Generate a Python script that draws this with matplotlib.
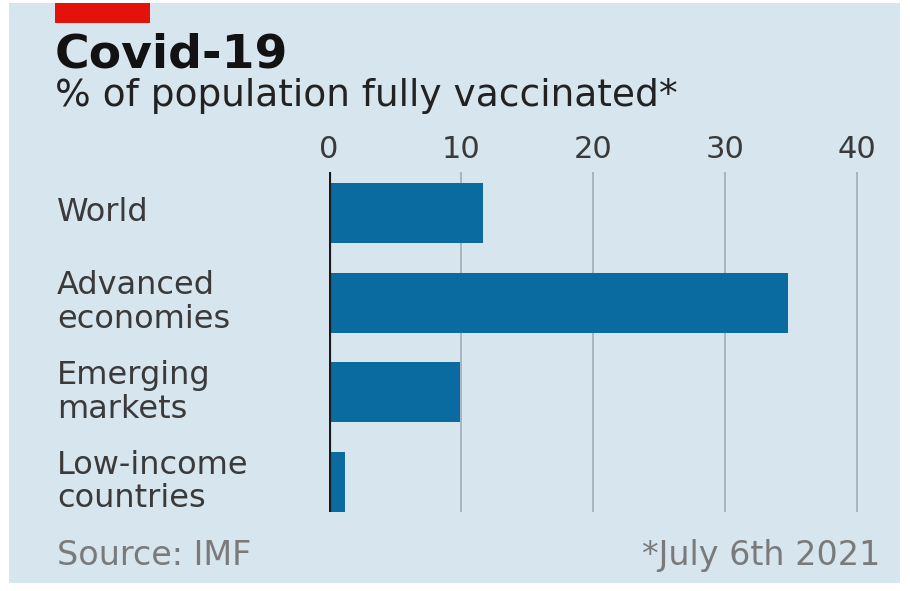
import matplotlib
matplotlib.use("Agg")
import matplotlib.pyplot as plt
from matplotlib.patches import Rectangle
import matplotlib.transforms as mtransforms

plt.rcParams['font.family'] = ['DejaVu Sans']

# data (% fully vaccinated, July 6th 2021)
groups = ["World", "Advanced\neconomies", "Emerging\nmarkets", "Low-income\ncountries"]
values = [11.7, 34.8, 9.9, 1.2]
ticks = [0, 10, 20, 30, 40]

bg = "#d6e5ee"
bar_col = "#0a6ba1"

fig = plt.figure(figsize=(9.1, 5.91), dpi=100)
fig.patch.set_facecolor("white")
fig.patches.append(Rectangle((9 / 910, 1 - 583 / 591), 891 / 910, 580 / 591,
                             transform=fig.transFigure, facecolor=bg,
                             edgecolor="none", zorder=0))
# red tab
fig.patches.append(Rectangle((55 / 910, 1 - 23 / 591), 95 / 910, 20 / 591,
                             transform=fig.transFigure, facecolor="#e3120b",
                             edgecolor="none", zorder=1))

ax = fig.add_axes([329 / 910, 1 - 512 / 591, 554 / 910, 340 / 591])
ax.set_zorder(3)
ax.set_facecolor("none")
ax.barh(range(len(groups)), values, height=0.67, color=bar_col, zorder=2)
ax.set_xlim(0, 42)
ax.set_ylim(3.334, -0.457)
ax.set_xticks(ticks)
ax.xaxis.tick_top()
ax.tick_params(axis="x", length=0, pad=6, labelsize=22, labelcolor="#3a3a3a")
ax.set_yticks([])
for s in ax.spines.values():
    s.set_visible(False)
ax.grid(axis="x", color="#a9b4bc", linewidth=1.4, zorder=1)
ax.axvline(0, color="#1a1a1a", linewidth=3, zorder=3)

# category labels, left aligned
tr = mtransforms.blended_transform_factory(fig.transFigure, ax.transData)
for i, g in enumerate(groups):
    ax.text(57 / 910, i, g, transform=tr, ha="left", va="center",
            fontsize=23, color="#3a3a3a", linespacing=1.1)

fig.text(55 / 910, 1 - 68 / 591, "Covid-19", fontsize=34, fontweight="bold",
         color="#121212", ha="left", va="baseline")
fig.text(55 / 910, 1 - 106 / 591, "% of population fully vaccinated*", fontsize=27,
         color="#222222", ha="left", va="baseline")
fig.text(57 / 910, 1 - 565 / 591, "Source: IMF", fontsize=24, color="#7a7a7a",
         ha="left", va="baseline")
fig.text(880 / 910, 1 - 565 / 591, "*July 6th 2021", fontsize=24, color="#7a7a7a",
         ha="right", va="baseline")

fig.savefig("out.png", dpi=100, facecolor=fig.get_facecolor())
